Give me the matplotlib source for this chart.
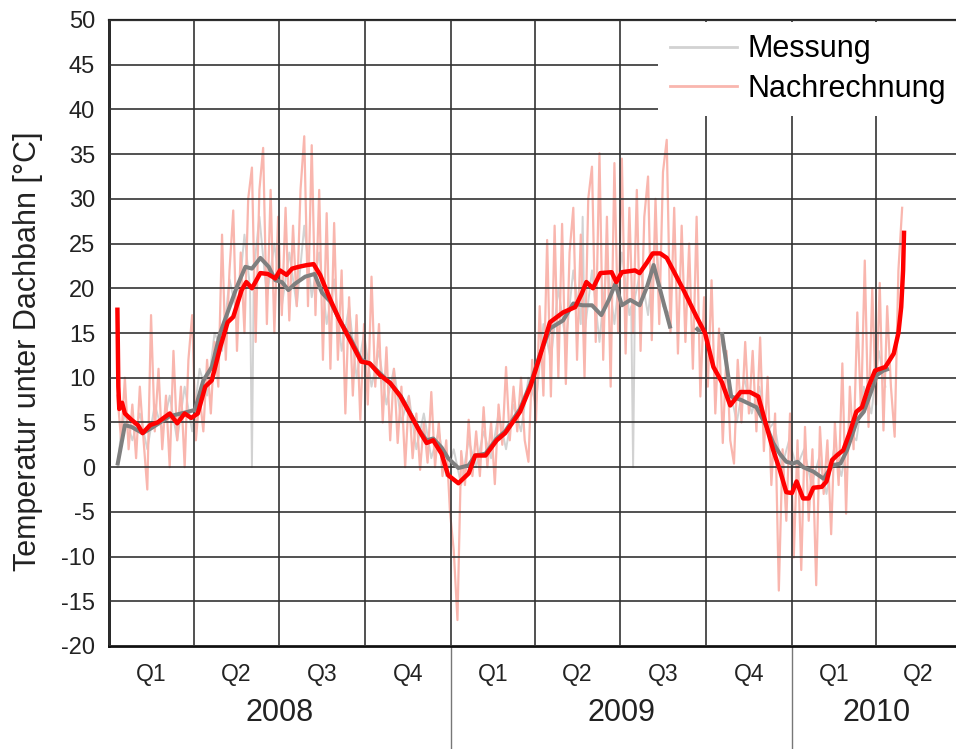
import matplotlib
matplotlib.use("Agg")
import matplotlib.pyplot as plt
import matplotlib.transforms as mtransforms
import numpy as np

plt.rcParams['font.family'] = ['Liberation Sans', 'DejaVu Sans']
plt.rcParams['axes.unicode_minus'] = False

# x values are days since 2008-01-01
quarter_starts = [0, 91, 182, 274, 366, 456, 547, 639, 731, 821, 912]
quarter_labels = ['Q1', 'Q2', 'Q3', 'Q4', 'Q1', 'Q2', 'Q3', 'Q4', 'Q1', 'Q2']
year_labels = ['2008', '2009', '2010']
year_starts = [0, 366, 731, 912]

# Nachrechnung, daily-ish raw values (every 4 days from day 9)
nach_days = np.arange(9, 850, 4)
nach_raw = [
    8, 3, 10, 2, 7, 1, 9, 3, -2.5, 17, 4, 11, 2, 8, 0, 13, 3, 9, 0, 12, 17,
    3, 8, 4, 12, 6, 14, 9, 26, 12, 22, 28.7, 13, 24, 15, 30, 33.5, 14, 31, 35.7, 16, 31, 15, 28,
    17, 29, 16.4, 27, 18, 31, 37, 18, 36, 17, 31, 12, 28.4, 11, 27.3, 12, 22, 6, 19, 8, 17, 5.3, 16,
    7, 21.3, 9, 16, 5, 13.4, 3, 11, 2.7, 9, 0, 7.9, 1, 6, -0.3, 5, 0.5, 8.4, 0, 5, -1, 3, -5,
    -9.3, -17.1, 1.8, -2, 5.3, -1, 4, -1, 6.7, 0, 5, -1.9, 7, 2.5, 11.2, 3, 9, 4, 10, 3, 0.6, 12, 5,
    18, 8, 25.4, 7.9, 27, 10, 27.2, 9.3, 24, 29, 12, 26, 10, 30, 33.6, 14, 35.1, 12, 28, 9, 34, 15, 34.5,
    12.7, 29, 15, 31, 13, 28, 32.5, 14.2, 30, 16, 33, 36.6, 15, 29, 12.7, 27, 14, 25, 11, 28, 7.9, 19, 9,
    20.9, 6, 15.5, 2.7, 13, 3, 0.4, 12, 5, 14, 6, 13, 4, 14.5, 1.8, 10.1, -2, 6, -13.8, 2, -6, 6, -10.1,
    3, -11.5, 4.5, -6, 2, -13.2, 4.5, -3, 3, -7.5, 5, -2, 11.6, -5.2, 9, 2, 17.3, 6, 23.1, 4.5, 20, 7,
    20.6, 4.1, 18, 9, 3.4, 22, 29,
]

# Messung raw values (mostly hidden under Nachrechnung)
mess_days = [9, 13, 17, 25, 33, 41, 49, 57, 65, 73, 81, 89, 97, 105, 113, 121, 129, 137, 145, 151,
             153, 155, 161, 169, 177, 185, 193, 201, 209, 217, 225, 233, 241, 249, 257, 265, 273, 281,
             289, 297, 305, 313, 321, 329, 337, 345, 353, 361, 369, 377, 385, 393, 401, 409, 417, 425,
             433, 441, 449, 457, 465, 473, 481, 489, 497, 505, 507, 509, 517, 525, 533, 541, 549, 557,
             559, 561, 563, 569, 577, 585, 593, 601, 620, 656, 664, 672, 680, 688, 696, 704, 712, 720,
             728, 736, 744, 752, 760, 768, 776, 784, 792, 800, 808, 816, 824, 831]
mess_raw = [0, 4, 6, 3, 6, 2, 7, 4, 8, 3, 9, 4, 11, 8, 15, 13, 21, 17, 26, 20,
            0, 22, 28, 19, 25, 18, 24, 18, 27, 19, 24, 16, 21, 13, 18, 10, 15, 9,
            13, 7, 11, 5, 8, 2, 6, 1, 4, -1, 2, -2, 3, 0, 4, 1, 6, 2,
            7, 4, 10, 7, 16, 12, 20, 14, 22, 16, 28, 15, 22, 14, 23, 16, 24, 17,
            18, 0, 19, 22, 17, 25, 18, 17, np.nan, 14, 9, 5, 10, 6, 9, 4, 5, 0,
            3, 0, 2, -2, 1, -3, 2, -1, 4, 3, 9, 6, 13, 9]

# smoothed curves
mess_smooth_days = [9, 14, 17, 24, 36, 46, 65, 81, 92, 101, 110, 119, 128, 137, 146, 153, 162, 171,
                    178, 185, 192, 199, 210, 220, 228, 237, 247, 258, 270, 279, 290, 301, 312, 322,
                    333, 340, 347, 356, 363, 374, 385, 392, 403, 415, 424, 440, 451, 461, 472, 486,
                    497, 507, 517, 527, 535, 542, 549, 558, 568, 576, 583, 590, 601, 615, 628, 633,
                    645, 656, 666, 677, 693, 704, 711, 718, 725, 732, 737, 743, 754, 765, 774, 783,
                    790, 801, 808, 815, 822, 829, 835]
mess_smooth = [0.2, 3.0, 4.7, 4.5, 3.8, 4.4, 5.7, 6.1, 6.4, 9.7, 11.2, 15.0, 17.6, 20.2, 22.4, 22.2, 23.4, 22.4,
               20.9, 20.7, 19.8, 20.5, 21.3, 21.6, 19.5, 18.5, 16.4, 14.5, 12.0, 11.6, 10.5, 9.4, 8.0, 6.1,
               4.0, 3.0, 3.2, 2.2, 1.0, -0.1, 0.2, 1.3, 1.5, 3.2, 4.0, 6.5, 9.3, 12.5, 15.5, 16.4,
               18.3, 18.1, 18.1, 17.0, 18.7, 20.5, 18.1, 18.7, 18.1, 20.2, 22.6, 19.8, 15.5, np.nan, 15.6, 15.1,
               np.nan, 15.1, 7.9, 7.5, 6.7, 4.5, 2.7, 1.5, 0.6, 0.4, 0.6, 0.0, -0.5, -1.3, 0.2, 0.4,
               1.9, 5.3, 6.2, 8.2, 10.3, 10.8, 11.0]

nach_smooth_days = [9, 10, 11, 14, 17, 24, 31, 36, 44, 52, 65, 73, 81, 88, 95, 103, 110, 119, 127, 133,
                    142, 147, 153, 162, 170, 178, 183, 190, 196, 203, 212, 219, 226, 237, 247, 258, 270,
                    279, 290, 301, 312, 322, 333, 340, 347, 356, 363, 374, 385, 392, 403, 415, 424, 440,
                    451, 461, 472, 486, 499, 506, 511, 518, 526, 538, 543, 549, 563, 568, 576, 582, 590,
                    597, 604, 615, 629, 638, 647, 656, 665, 676, 686, 695, 704, 711, 718, 725, 731, 736,
                    743, 749, 754, 763, 768, 774, 779, 786, 793, 800, 806, 813, 820, 831, 840, 845, 848,
                    850, 851]
nach_smooth = [17.6, 9.0, 6.5, 7.2, 6.0, 5.3, 4.7, 3.8, 4.7, 5.0, 6.0, 4.9, 6.0, 5.5, 6.0, 9.0, 9.7, 13.4, 16.2, 16.8,
               19.8, 20.7, 20.0, 21.7, 21.6, 21.1, 22.0, 21.5, 22.2, 22.4, 22.6, 22.7, 21.5, 18.7, 16.4, 14.2, 11.8,
               11.6, 10.3, 9.4, 7.9, 6.0, 3.9, 2.7, 3.0, 1.5, -0.9, -1.8, -0.7, 1.3, 1.3, 3.0, 3.8, 6.2,
               9.0, 12.3, 16.2, 17.3, 17.9, 19.4, 20.7, 20.0, 21.7, 21.8, 20.7, 21.8, 22.0, 21.7, 22.9, 23.9, 23.9,
               23.4, 22.0, 19.8, 16.8, 15.0, 11.2, 9.5, 6.9, 8.4, 8.4, 7.9, 4.5, 1.9, -0.3, -2.8, -2.9, -1.6,
               -3.5, -3.5, -2.3, -2.2, -1.6, 0.8, 1.3, 1.9, 3.9, 6.2, 6.7, 9.0, 10.8, 11.2, 12.7, 15.0, 17.9,
               22.0, 26.2]

fig = plt.figure(figsize=(9.56, 7.49), dpi=100)
ax = fig.add_axes([109 / 956, 1 - 646 / 749, 852 / 956, 626 / 749])

ax.plot(mess_days, mess_raw, color='#d2d2d2', lw=1.4, zorder=1, label='Messung')
ax.plot(nach_days, nach_raw, color='#f9b6ae', lw=1.6, zorder=2, label='Nachrechnung')
ax.plot(mess_smooth_days, mess_smooth, color='#7f7f7f', lw=2.9, zorder=3, solid_capstyle='butt')
ax.plot(nach_smooth_days, nach_smooth, color='#ff0000', lw=3.2, zorder=4)

ax.set_xlim(0, 912)
ax.set_ylim(-20, 50)
ax.set_yticks(np.arange(-20, 51, 5))
ax.set_xticks(quarter_starts)
ax.set_xticklabels([])
ax.tick_params(axis='both', length=0)
ax.tick_params(axis='y', labelsize=17, labelcolor='#222222', pad=10)
ax.set_axisbelow(False)
ax.grid(True, color='#333333', lw=1.2)

for side in ['left', 'bottom']:
    ax.spines[side].set_linewidth(2.0)
    ax.spines[side].set_color('#111111')
ax.spines['top'].set_linewidth(1.6)
ax.spines['top'].set_color('#222222')
ax.spines['right'].set_visible(False)

trans = mtransforms.blended_transform_factory(ax.transData, ax.transAxes)
for i, q in enumerate(quarter_labels):
    xc = (quarter_starts[i] + quarter_starts[i + 1]) / 2
    ax.text(xc, -0.0463, q, transform=trans, ha='center', va='center',
            fontsize=16.5, color='#222222')
for i, yl in enumerate(year_labels):
    xc = (year_starts[i] + year_starts[i + 1]) / 2
    ax.text(xc, -0.107, yl, transform=trans, ha='center', va='center',
            fontsize=22, color='#222222')
for xs in year_starts[1:3]:
    ax.plot([xs, xs], [0, -0.17], transform=trans, color='#777777', lw=1.0, clip_on=False)

fig.text(28 / 956, 1 - 351 / 749, 'Temperatur unter Dachbahn [°C]', rotation=90,
         ha='center', va='center', fontsize=22, color='#222222')

leg = ax.legend(loc='upper left', bbox_to_anchor=(0.644, 0.9968), fontsize=22,
                frameon=True, fancybox=False, framealpha=1, facecolor='white',
                edgecolor='none', borderpad=0.4, handlelength=2.2, handletextpad=0.33,
                labelspacing=0.32, borderaxespad=0)
for line in leg.get_lines():
    line.set_linewidth(2.0)
leg.set_zorder(10)

fig.savefig('out.png', dpi=100)
